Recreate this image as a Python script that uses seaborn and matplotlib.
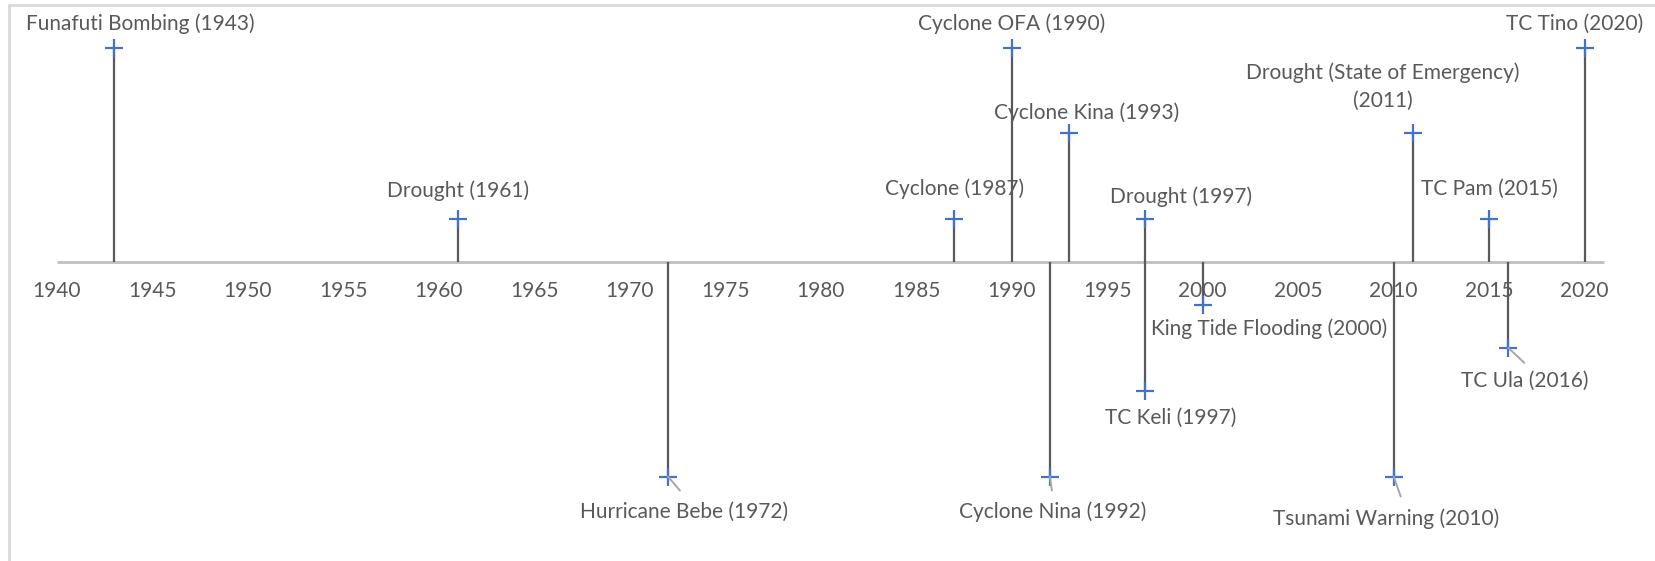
import matplotlib
matplotlib.use("Agg")
import matplotlib.pyplot as plt
from matplotlib.lines import Line2D
import seaborn as sns
import pandas as pd

# events on the timeline
names = ["Funafuti Bombing", "Drought", "Hurricane Bebe", "Cyclone", "Cyclone OFA",
         "Cyclone Nina", "Cyclone Kina", "Drought", "TC Keli", "King Tide Flooding",
         "Tsunami Warning", "Drought (State of Emergency)", "TC Pam", "TC Ula", "TC Tino"]
years = [1943, 1961, 1972, 1987, 1990, 1992, 1993, 1997, 1997, 2000, 2010, 2011, 2015, 2016, 2020]
heights = [5, 1, -5, 1, 5, -5, 3, 1, -3, -1, -5, 3, 1, -2, 5]
tick_years = list(range(1940, 2021, 5))

df = pd.DataFrame({"name": names, "year": years, "height": heights})
df["label"] = [f"{n}\n({y})" if len(n) > 20 else f"{n} ({y})" for n, y in zip(names, years)]

# label placement (pixels from marker, x right / y down) and leader line ends
label_offsets = [(26, -24), (0, -28), (16, 35), (0, -30), (0, -24), (3, 35), (18, -21),
                 (36, -22), (25, 27), (66, 24), (-8, 42), (-30, -47), (0, -30), (16, 33), (-10, -24)]
leaders = {2: (12, 14), 5: (2, 14), 10: (7, 20), 13: (16, 15)}

sns.set_theme(style="white")
plt.rcParams["font.family"] = ["Lato", "DejaVu Sans"]

fig = plt.figure(figsize=(16.55, 5.61), dpi=100)
ax = fig.add_axes([0, 0, 1, 1])
ax.set_xlim(1937.03, 2023.68)
ax.set_ylim(-6.97, 6.11)
ax.axis("off")

text_color = "#595959"
fs = 15

# horizontal axis line
ax.hlines(0, 1940, 2021, color="#BFBFBF", lw=2, zorder=1)
for ty in tick_years:
    ax.annotate(str(ty), xy=(ty, 0), xytext=(0, -29), textcoords="offset pixels",
                ha="center", va="center", fontsize=fs, color=text_color)

# stems and markers
ax.vlines(df["year"], 0, df["height"], color="#595959", lw=1.6, zorder=2)
sns.scatterplot(data=df, x="year", y="height", marker="+", s=170, color="#4472C4",
                linewidth=1.6, ax=ax, zorder=3, legend=False)
ax.set_xlabel("")
ax.set_ylabel("")

for i, row in df.iterrows():
    dx, dy = label_offsets[i]
    ax.annotate(row["label"], xy=(row["year"], row["height"]), xytext=(dx, -dy),
                textcoords="offset pixels", ha="center", va="center", fontsize=fs,
                color=text_color, linespacing=1.5, zorder=4)
    if i in leaders:
        lx, ly = leaders[i]
        ax.annotate("", xy=(row["year"], row["height"]), xytext=(lx, -ly),
                    textcoords="offset pixels",
                    arrowprops=dict(arrowstyle="-", color="#A6A6A6", lw=1.4,
                                    shrinkA=0, shrinkB=0))

# chart border (top and left edges visible)
fig.add_artist(Line2D([9 / 1655, 1], [1 - 5 / 561, 1 - 5 / 561], color="#D9D9D9", lw=2,
                      transform=fig.transFigure))
fig.add_artist(Line2D([9 / 1655, 9 / 1655], [0, 1 - 5 / 561], color="#D9D9D9", lw=2,
                      transform=fig.transFigure))

fig.savefig("out.png", dpi=100)
